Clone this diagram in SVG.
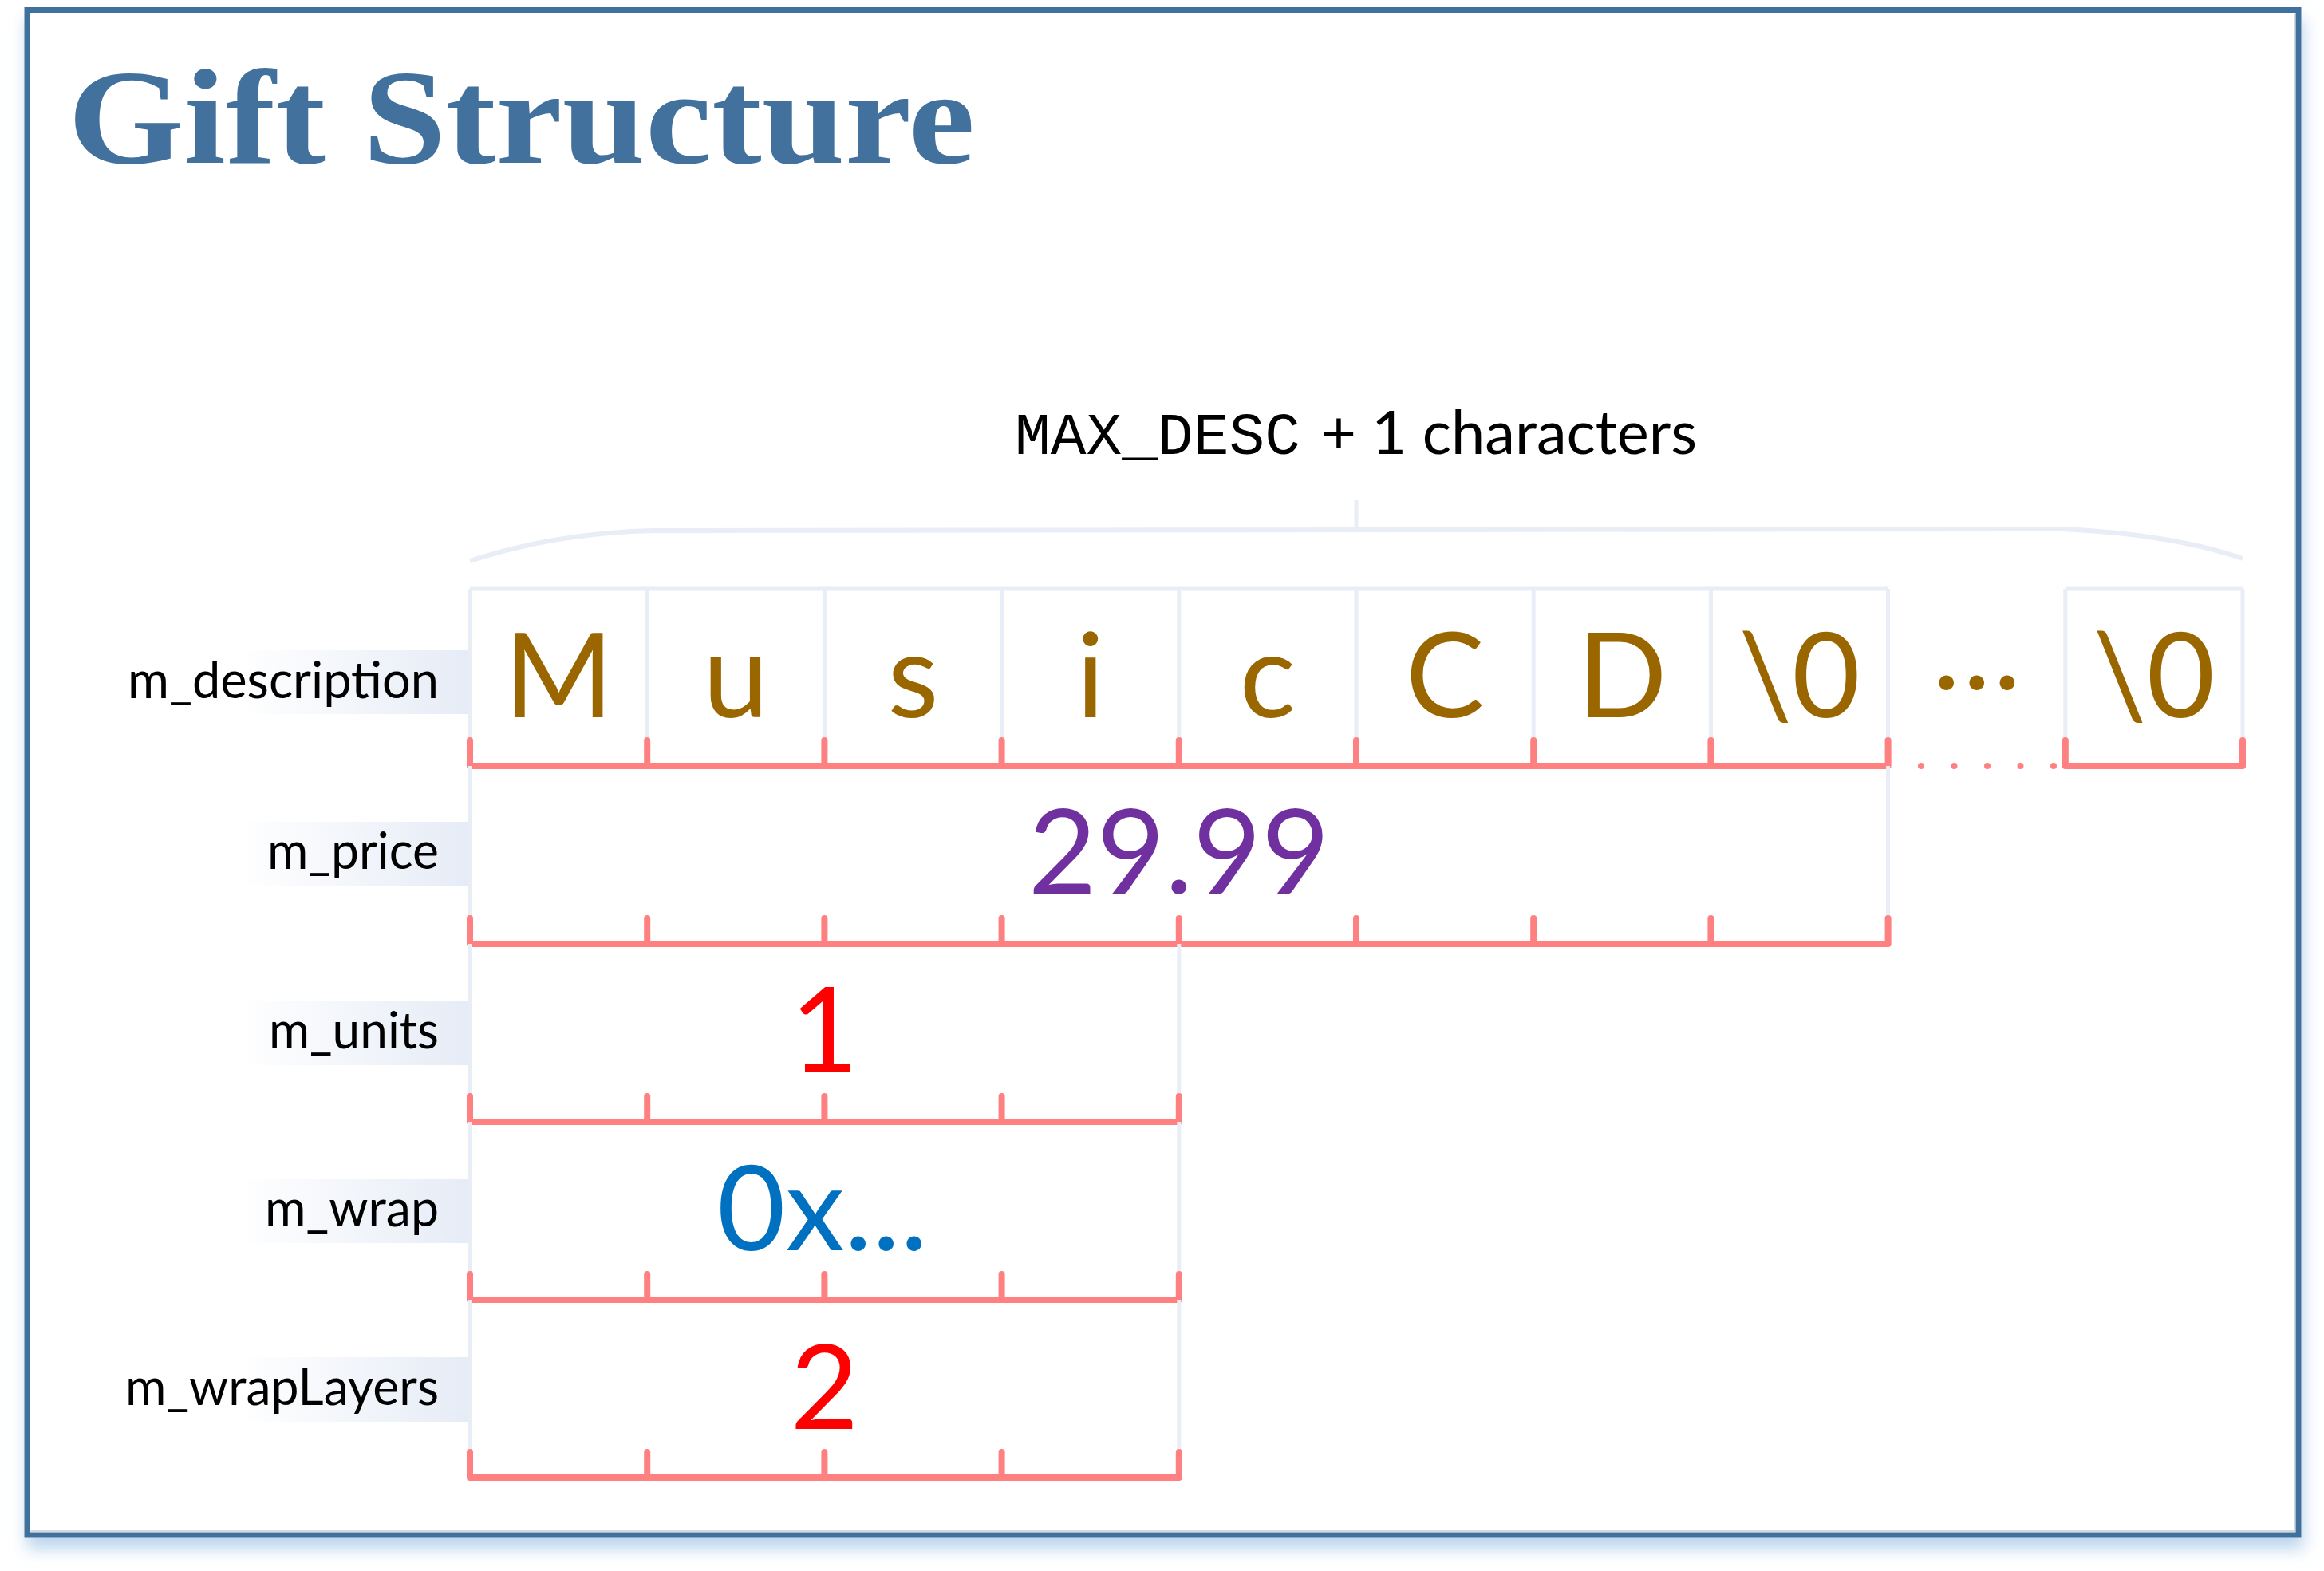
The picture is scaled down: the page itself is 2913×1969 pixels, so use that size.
<svg xmlns="http://www.w3.org/2000/svg" width="2913" height="1969" viewBox="0 0 2913 1969">
  <defs>
    <filter id="shadow" x="-3%" y="-3%" width="106%" height="108%">
      <feDropShadow dx="3" dy="14" stdDeviation="10" flood-color="#9DC3E6" flood-opacity="0.7"/>
    </filter>
    <linearGradient id="lblbg" x1="0" y1="0" x2="1" y2="0">
      <stop offset="0" stop-color="#E6ECF6" stop-opacity="0"/>
      <stop offset="1" stop-color="#E6ECF6" stop-opacity="1"/>
    </linearGradient>
  </defs>
  <style>
    .title { font-family: "Liberation Serif", serif; font-weight: bold; font-size: 170px; fill: #41719C; }
    .lbl { font-family: Lato, "Liberation Sans", sans-serif; font-size: 64px; fill: #000000; text-anchor: end; }
    .val { font-family: Lato, "Liberation Sans", sans-serif; font-size: 148px; text-anchor: middle; }
    .ch { fill: #996600; }
    .grid { stroke: #E8EDF6; stroke-width: 5; fill: none; }
    .pink { stroke: #FF8080; stroke-width: 8; fill: none; stroke-linecap: round; stroke-linejoin: round; }
    .lblbg { fill: url(#lblbg); }
  </style>

  <!-- frame -->
  <rect x="34" y="12.5" width="2847" height="1911.5" fill="#FFFFFF" stroke="#41719C" stroke-width="7" filter="url(#shadow)"/>
  <path d="M38.5,1919 L2876,1919 L2876,17" stroke="#D3D8DE" stroke-width="2" fill="none"/>

  <text class="title" x="85" y="204" textLength="1137" lengthAdjust="spacingAndGlyphs">Gift Structure</text>

  <!-- brace annotation -->
  <g id="connectors">
    <path d="M589,703 C650,683 730,667 820,665 L2585,663 C2680,667 2760,682 2811,700" stroke="#E8EDF6" stroke-width="6" fill="none"/>
    <path d="M1700,627 L1700,664" stroke="#E8EDF6" stroke-width="5" fill="none"/>
  </g>
  <g id="brace-label">
    <text x="1272" y="569" font-family="'Liberation Mono', 'DejaVu Sans Mono', monospace" font-size="75" fill="#000000" textLength="358" lengthAdjust="spacingAndGlyphs">MAX_DESC</text>
    <text x="1656" y="569" font-family="Lato, 'Liberation Sans', sans-serif" font-size="76" fill="#000000" textLength="471" lengthAdjust="spacingAndGlyphs">+ 1 characters</text>
  </g>

  <!-- m_description -->
  <g id="m_description">
    <rect class="lblbg" x="300" y="815" width="287" height="80"/>
    <text class="lbl" x="550" y="875" textLength="390" lengthAdjust="spacingAndGlyphs">m_description</text>
    <path class="grid" d="M589,738 L2366.6,738 M2588.8,738 L2811,738 M589,738 V960 M811.2,738 V960 M1033.4,738 V960 M1255.6,738 V960 M1477.8,738 V960 M1700,738 V960 M1922.2,738 V960 M2144.4,738 V960 M2366.6,738 V960 M2588.8,738 V960 M2811,738 V960"/>
    <path class="pink" d="M589,960 H2366.6 M589,928 V960 M811.2,928 V960 M1033.4,928 V960 M1255.6,928 V960 M1477.8,928 V960 M1700,928 V960 M1922.2,928 V960 M2144.4,928 V960 M2366.6,928 V960 M2588.8,960 H2811 M2588.8,928 V960 M2811,928 V960"/>
    <path class="pink" d="M2408,960 H2575" stroke-dasharray="0 41.5"/>
    <text class="val ch" x="700.1" y="899">M</text>
    <text class="val ch" x="922.3" y="899">u</text>
    <text class="val ch" x="1144.5" y="899">s</text>
    <text class="val ch" x="1366.7" y="899">i</text>
    <text class="val ch" x="1588.9" y="899">c</text>
    <text class="val ch" x="1811.1" y="899">C</text>
    <text class="val ch" x="2033.3" y="899">D</text>
    <text class="val ch" x="2255.5" y="899">\0</text>
    <text class="val ch" x="2477.7" y="864">…</text>
    <text class="val ch" x="2699.9" y="899">\0</text>
  </g>

  <!-- m_price -->
  <g id="m_price">
    <rect class="lblbg" x="300" y="1030" width="287" height="80"/>
    <text class="lbl" x="550" y="1089" textLength="215" lengthAdjust="spacingAndGlyphs">m_price</text>
    <path class="grid" d="M589,960 V1183 M2366.6,960 V1183"/>
    <path class="pink" d="M589,1183 H2366.6 M589,1151 V1183 M811.2,1151 V1183 M1033.4,1151 V1183 M1255.6,1151 V1183 M1477.8,1151 V1183 M1700,1151 V1183 M1922.2,1151 V1183 M2144.4,1151 V1183 M2366.6,1151 V1183"/>
    <text class="val" x="1477.8" y="1120" fill="#7030A0">29.99</text>
  </g>

  <!-- m_units -->
  <g id="m_units">
    <rect class="lblbg" x="300" y="1254" width="287" height="81"/>
    <text class="lbl" x="550" y="1314" textLength="213" lengthAdjust="spacingAndGlyphs">m_units</text>
    <path class="grid" d="M589,1183 V1406 M1477.8,1183 V1406"/>
    <path class="pink" d="M589,1406 H1477.8 M589,1374 V1406 M811.2,1374 V1406 M1033.4,1374 V1406 M1255.6,1374 V1406 M1477.8,1374 V1406"/>
    <text class="val" x="1033.4" y="1343" fill="#FF0000">1</text>
  </g>

  <!-- m_wrap -->
  <g id="m_wrap">
    <rect class="lblbg" x="300" y="1478" width="287" height="80"/>
    <text class="lbl" x="550" y="1537" textLength="218" lengthAdjust="spacingAndGlyphs">m_wrap</text>
    <path class="grid" d="M589,1406 V1629 M1477.8,1406 V1629"/>
    <path class="pink" d="M589,1629 H1477.8 M589,1597 V1629 M811.2,1597 V1629 M1033.4,1597 V1629 M1255.6,1597 V1629 M1477.8,1597 V1629"/>
    <text class="val" x="1031" y="1567" fill="#0070C0">0x...</text>
  </g>

  <!-- m_wrapLayers -->
  <g id="m_wrapLayers">
    <rect class="lblbg" x="300" y="1701" width="287" height="81"/>
    <text class="lbl" x="550" y="1761" textLength="393" lengthAdjust="spacingAndGlyphs">m_wrapLayers</text>
    <path class="grid" d="M589,1629 V1852 M1477.8,1629 V1852"/>
    <path class="pink" d="M589,1852 H1477.8 M589,1820 V1852 M811.2,1820 V1852 M1033.4,1820 V1852 M1255.6,1820 V1852 M1477.8,1820 V1852"/>
    <text class="val" x="1033.4" y="1791" fill="#FF0000">2</text>
  </g>
</svg>
